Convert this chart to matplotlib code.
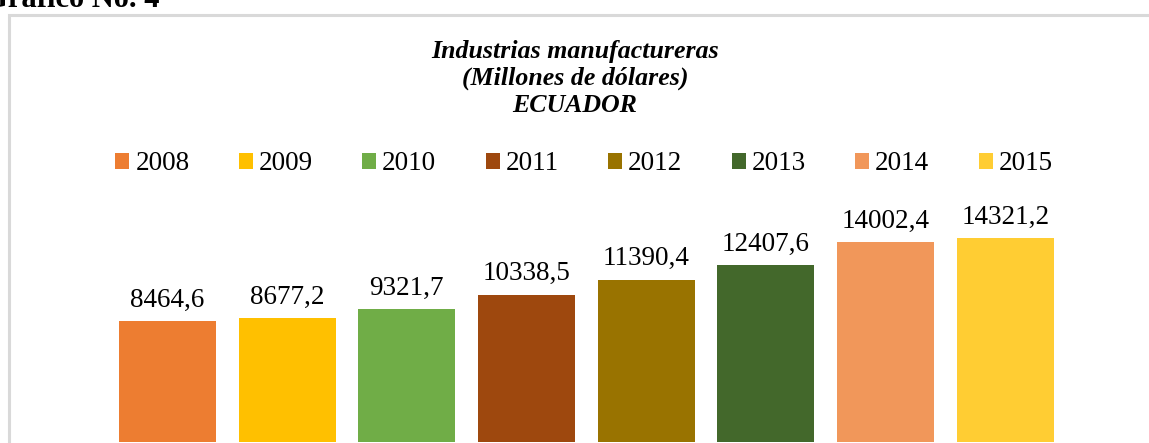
import matplotlib.pyplot as plt
from matplotlib.patches import Patch, Rectangle

years = ['2008', '2009', '2010', '2011', '2012', '2013', '2014', '2015']
values = [8464.6, 8677.2, 9321.7, 10338.5, 11390.4, 12407.6, 14002.4, 14321.2]
colors = ['#ED7D31', '#FFC000', '#70AD47', '#9E480E', '#997300', '#43682B', '#F1975A', '#FFCD33']
title_lines = ['Industrias manufactureras', '(Millones de dólares)', 'ECUADOR']

W, H = 1149, 443
plt.rcParams['font.family'] = ['Liberation Serif', 'DejaVu Serif']

fig = plt.figure(figsize=(W / 100, H / 100), dpi=100)

# caja gris del grafico (se sale por la derecha y abajo)
fig.patches.append(Rectangle((9 / W, -0.1), 1.2, 1 - 15 / H + 0.1, transform=fig.transFigure,
                             fill=False, edgecolor='#d9d9d9', linewidth=2.2))

fig.text(160 / W, 1 - 7 / H, 'Gráfico No. 4', ha='right', va='baseline',
         fontsize=22, fontweight='bold')

ax = fig.add_axes([107.6 / W, 1 / H, 957.6 / W, 241 / H])
x = range(len(years))
bars = ax.bar(x, values, width=0.81, color=colors)
ax.set_xlim(-0.5, 7.5)
ax.set_ylim(0, 16900)
ax.axis('off')

for i, v in enumerate(values):
    ax.annotate(f'{v:.1f}'.replace('.', ','), (i, v), xytext=(0, 6), textcoords='offset points',
                ha='center', va='bottom', fontsize=19.5)

# titulo: una linea por texto para controlar la separacion
for k, line in enumerate(title_lines):
    fig.text(575 / W, 1 - (58 + 27 * k) / H, line, ha='center', va='baseline',
             fontsize=18.6, fontweight='bold', fontstyle='italic')

handles = [Patch(facecolor=c) for c in colors]
fig.legend(handles, years, loc='center', bbox_to_anchor=(584 / W, 1 - 164 / H), ncol=8,
           frameon=False, fontsize=19.5, handlelength=0.52, handleheight=0.52,
           handletextpad=0.22, columnspacing=1.82, borderaxespad=0, borderpad=0)

fig.savefig('out.png', dpi=100)
